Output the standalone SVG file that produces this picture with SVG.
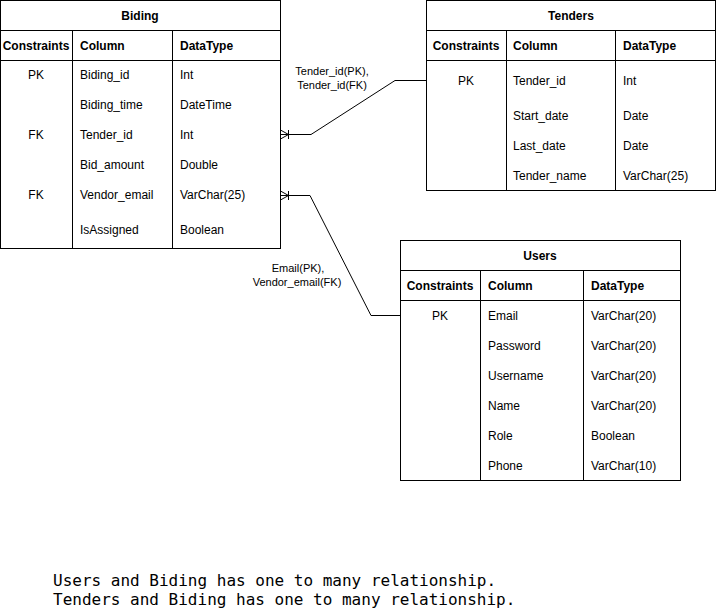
<svg xmlns="http://www.w3.org/2000/svg" width="716" height="616" viewBox="0 0 716 616">
<style>
.box{fill:#fff;stroke:#000;stroke-width:1}
.ln{stroke:#000;stroke-width:1;fill:none}
.t{font-family:"Liberation Sans",Arial,sans-serif;font-size:12px;fill:#000}
.b{font-weight:bold}
.c{text-anchor:middle}
.lbl{font-family:"Liberation Sans",Arial,sans-serif;font-size:11px;fill:#000;text-anchor:middle}
.mono{font-family:"DejaVu Sans Mono","Liberation Mono",monospace;font-size:16px;fill:#000}
</style>
<defs>
<marker id="many" markerUnits="userSpaceOnUse" markerWidth="20" markerHeight="20" refX="0" refY="0" orient="auto" overflow="visible">
<path d="M0,-4.5 L8,0 M0,4.5 L8,0 M8,-4.5 L8,4.5" stroke="#000" stroke-width="1" fill="none"/>
</marker>
</defs>
<rect width="716" height="616" fill="#fff"/>

<g id="connectors">
<path class="ln" d="M280.5,134.5 L311,134.5 L395,80.5 L426,80.5" marker-start="url(#many)"/>
<path class="ln" d="M280.5,195.5 L310,195.5 L371,315.5 L400,315.5" marker-start="url(#many)"/>
<text class="lbl" x="332" y="75">Tender_id(PK),</text>
<text class="lbl" x="332" y="89">Tender_id(FK)</text>
<text class="lbl" x="298" y="272">Email(PK),</text>
<text class="lbl" x="297" y="286">Vendor_email(FK)</text>
</g>

<g id="biding">
<rect class="box" x="0.5" y="0.5" width="280" height="248"/>
<path class="ln" d="M0.5,30.5 H280.5 M0.5,60.5 H280.5 M72.5,30.5 V248.5 M172.5,30.5 V248.5"/>
<text class="t b c" x="140" y="20">Biding</text>
<text class="t b c" x="36" y="50">Constraints</text>
<text class="t b" x="80" y="50">Column</text>
<text class="t b" x="180" y="50">DataType</text>
<text class="t c" x="36" y="79">PK</text>
<text class="t" x="80" y="79">Biding_id</text>
<text class="t" x="180" y="79">Int</text>
<text class="t" x="80" y="109">Biding_time</text>
<text class="t" x="180" y="109">DateTime</text>
<text class="t c" x="36" y="139">FK</text>
<text class="t" x="80" y="139">Tender_id</text>
<text class="t" x="180" y="139">Int</text>
<text class="t" x="80" y="169">Bid_amount</text>
<text class="t" x="180" y="169">Double</text>
<text class="t c" x="36" y="199">FK</text>
<text class="t" x="80" y="199">Vendor_email</text>
<text class="t" x="180" y="199">VarChar(25)</text>
<text class="t" x="80" y="234">IsAssigned</text>
<text class="t" x="180" y="234">Boolean</text>
</g>

<g id="tenders">
<rect class="box" x="426.5" y="0.5" width="289" height="190"/>
<path class="ln" d="M426.5,30.5 H715.5 M426.5,60.5 H715.5 M506.5,30.5 V190.5 M615.5,30.5 V190.5"/>
<text class="t b c" x="571" y="20">Tenders</text>
<text class="t b c" x="466" y="50">Constraints</text>
<text class="t b" x="513" y="50">Column</text>
<text class="t b" x="623" y="50">DataType</text>
<text class="t c" x="466" y="85">PK</text>
<text class="t" x="513" y="85">Tender_id</text>
<text class="t" x="623" y="85">Int</text>
<text class="t" x="513" y="120">Start_date</text>
<text class="t" x="623" y="120">Date</text>
<text class="t" x="513" y="150">Last_date</text>
<text class="t" x="623" y="150">Date</text>
<text class="t" x="513" y="180">Tender_name</text>
<text class="t" x="623" y="180">VarChar(25)</text>
</g>

<g id="users">
<rect class="box" x="400.5" y="240.5" width="280" height="240"/>
<path class="ln" d="M400.5,270.5 H680.5 M400.5,300.5 H680.5 M480.5,270.5 V480.5 M583.5,270.5 V480.5"/>
<text class="t b c" x="540" y="260">Users</text>
<text class="t b c" x="440" y="290">Constraints</text>
<text class="t b" x="488" y="290">Column</text>
<text class="t b" x="591" y="290">DataType</text>
<text class="t c" x="440" y="320">PK</text>
<text class="t" x="488" y="320">Email</text>
<text class="t" x="591" y="320">VarChar(20)</text>
<text class="t" x="488" y="350">Password</text>
<text class="t" x="591" y="350">VarChar(20)</text>
<text class="t" x="488" y="380">Username</text>
<text class="t" x="591" y="380">VarChar(20)</text>
<text class="t" x="488" y="410">Name</text>
<text class="t" x="591" y="410">VarChar(20)</text>
<text class="t" x="488" y="440">Role</text>
<text class="t" x="591" y="440">Boolean</text>
<text class="t" x="488" y="470">Phone</text>
<text class="t" x="591" y="470">VarChar(10)</text>
</g>

<g id="note">
<text class="mono" x="53" y="586">Users and Biding has one to many relationship.</text>
<text class="mono" x="53" y="605">Tenders and Biding has one to many relationship.</text>
</g>
</svg>
